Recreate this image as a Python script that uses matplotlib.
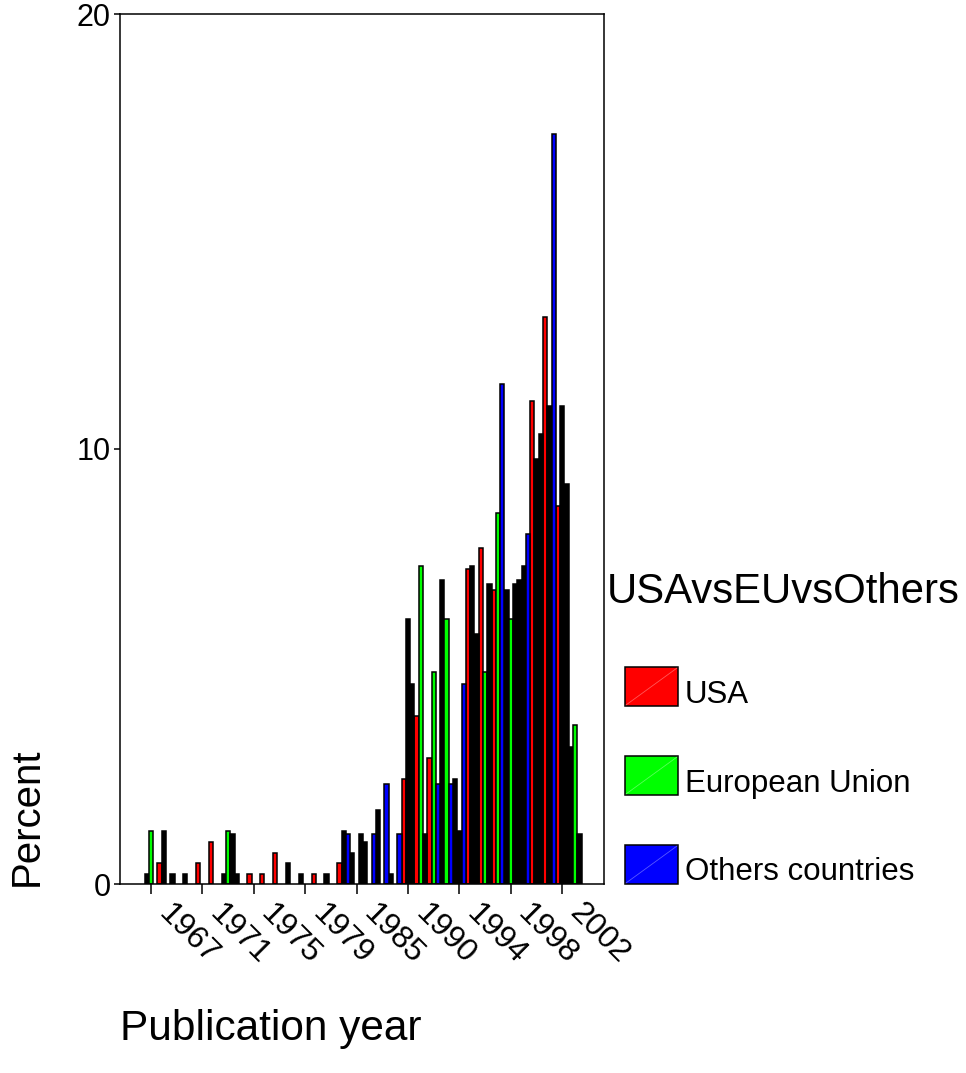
import matplotlib
matplotlib.use('Agg')
import matplotlib.pyplot as plt
import numpy as np
from matplotlib.patches import Rectangle
from matplotlib.lines import Line2D
from matplotlib.transforms import blended_transform_factory, offset_copy

plt.rcParams['font.family'] = ['Liberation Sans', 'DejaVu Sans']

# publication years present in the data (one cluster each)
years = [1967, 1968, 1969, 1970, 1971, 1972, 1973, 1974, 1975, 1976, 1977, 1978, 1979,
         1980, 1982, 1984, 1985, 1986, 1988, 1989,
         1990, 1991, 1992, 1993, 1994, 1995, 1996, 1997, 1998, 1999, 2000, 2001, 2002, 2003]

# percent of papers within each group
usa = [0.24, 0.48, 0.24, 0.24, 0.48, 0.97, 0.24, 0.24, 0.24, 0.24, 0.72, 0.48, 0.24,
       0.24, 0.24, 0.48, 0.72, 0.97, 1.69, 0.24,
       2.42, 3.86, 2.90, 7.00, 2.42, 7.25, 7.73, 6.76, 6.76, 7.00, 11.11, 13.04, 8.70, 3.14]
eu = [1.22, 1.22, 0, 0, 0, 0, 1.22, 0, 0, 0, 0, 0, 0,
      0, 0, 1.22, 0, 0, 0, 0,
      6.10, 7.32, 4.88, 6.10, 1.22, 7.32, 4.88, 8.54, 6.10, 7.32, 9.76, 10.98, 10.98, 3.66]
others = [0, 0, 0, 0, 0, 0, 1.15, 0, 0, 0, 0, 0, 0,
          0, 0, 1.15, 1.15, 1.15, 2.30, 1.15,
          4.60, 1.15, 2.30, 2.30, 4.60, 5.75, 6.90, 11.49, 6.90, 8.05, 10.34, 17.24, 9.20, 1.15]

series_names = ['USA', 'European Union', 'Others countries']
colors = ['#ff0000', '#00ff00', '#0000ff']

# bars that get filled solid black instead of the group colour
solid_black = {
    'USA': [1967, 1969, 1970, 1973, 1974, 1978, 1979, 1982, 1985, 1986, 1988, 1989,
            1993, 1994, 1998, 1999, 2003],
    'European Union': [1968, 1984, 1990, 1994, 1995, 1999, 2000, 2001, 2002],
    'Others countries': [1973, 1985, 1990, 1991, 1995, 1996, 1998, 2000, 2002, 2003],
}

W, H = 966, 1073
fig = plt.figure(figsize=(W / 100, H / 100), dpi=100)
fig.patch.set_facecolor('white')


def fx(px):
    return px / W


def fy(py):
    return 1 - py / H


ax = fig.add_axes([fx(120), fy(884), fx(604) - fx(120), fy(14) - fy(884)])

x = np.arange(len(years))
w = 1 / 3
for i, (name, vals, col) in enumerate(zip(series_names, [usa, eu, others], colors)):
    vals = np.array(vals)
    keep = vals > 0
    face = np.array(['black' if yr in solid_black[name] else col for yr in years])
    ax.bar(x[keep] + (i - 1) * w, vals[keep], width=w, color=face[keep],
           edgecolor='black', linewidth=1.1, zorder=2)

ax.set_xlim(-2.41, 35.25)
ax.set_ylim(0, 20)
ax.set_yticks([0, 10, 20])
ax.set_yticklabels(['0', '10', '20'], fontsize=22)

# every fourth year gets a tick; its label hangs diagonally below-right of it
ax.set_xticks(x[::4])
ax.set_xticklabels([])
lab_trans = offset_copy(blended_transform_factory(ax.transData, ax.transAxes),
                        fig=fig, x=37, y=-50, units='dots')
for k in x[::4]:
    ax.text(k, 0, str(years[k]), transform=lab_trans, fontsize=23, rotation=-45,
            ha='center', va='center', rotation_mode='anchor', clip_on=False)

ax.tick_params(axis='x', direction='out', length=7.5, width=1.1, pad=4)
ax.tick_params(axis='y', direction='out', length=4.5, width=1.1, pad=2)
for sp in ax.spines.values():
    sp.set_linewidth(1.1)
    sp.set_color('black')

fig.text(fx(27), fy(817), 'Percent', rotation=90, fontsize=29, ha='center', va='center')
fig.text(fx(120), fy(1040), 'Publication year', fontsize=30.5, ha='left', va='baseline')

# legend drawn by hand to the right of the plot
fig.text(fx(607), fy(603), 'USAvsEUvsOthers', fontsize=30.2, ha='left', va='baseline')
patch_tops = [667, 756, 845]
label_base = [703, 792, 880]
for name, col, top, base in zip(series_names, colors, patch_tops, label_base):
    fig.patches.append(Rectangle((fx(625), fy(top + 39)), fx(678) - fx(625), fy(top) - fy(top + 39),
                                 transform=fig.transFigure, facecolor=col, edgecolor='black',
                                 linewidth=1.1))
    fig.lines.append(Line2D([fx(626), fx(677)], [fy(top + 38), fy(top + 1)],
                            transform=fig.transFigure, color='white', alpha=0.35, linewidth=0.6))
    fig.text(fx(685), fy(base), name, fontsize=22.5, ha='left', va='baseline')

fig.savefig('out.png', dpi=100)
